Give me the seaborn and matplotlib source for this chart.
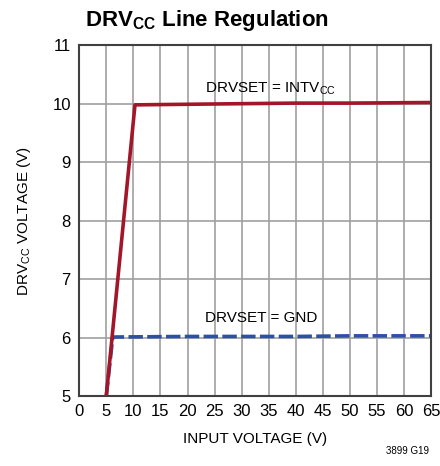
import matplotlib
matplotlib.use("Agg")
import matplotlib.pyplot as plt
import seaborn as sns
import pandas as pd

# DRVcc line regulation
vin_intv = [5.0, 10.3, 20, 30, 40, 50, 65]
vdrv_intv = [5.0, 9.98, 9.99, 10.0, 10.01, 10.01, 10.02]

vin_gnd = [5.0, 6.2, 20, 30, 40, 50, 65]
vdrv_gnd = [5.0, 6.01, 6.02, 6.02, 6.02, 6.03, 6.03]

x_ticks = list(range(0, 70, 5))
y_ticks = list(range(5, 12))

sns.set_theme(style="white")
plt.rcParams['font.family'] = ['Liberation Sans Narrow', 'Liberation Sans', 'DejaVu Sans']
plt.rcParams['text.color'] = 'black'
plt.rcParams['axes.labelcolor'] = 'black'
plt.rcParams['xtick.color'] = 'black'
plt.rcParams['ytick.color'] = 'black'

df_intv = pd.DataFrame({'vin': vin_intv, 'vdrv': vdrv_intv})
df_gnd = pd.DataFrame({'vin': vin_gnd, 'vdrv': vdrv_gnd})

fig = plt.figure(figsize=(4.4, 4.66), dpi=100)
ax = fig.add_axes([0.18, 0.15, 0.80, 0.753])

ax.grid(True, color='#a0a0a0', linewidth=1.2)
ax.set_axisbelow(True)

sns.lineplot(data=df_gnd, x='vin', y='vdrv', ax=ax, color='#2e4fa3',
             linewidth=2.6, linestyle=(0, (4, 1.2)), sort=False)
sns.lineplot(data=df_intv, x='vin', y='vdrv', ax=ax, color='#a3162a',
             linewidth=2.6, sort=False)

ax.set_xlim(0, 65)
ax.set_ylim(5, 11)
ax.set_xticks(x_ticks)
ax.set_yticks(y_ticks)
ax.tick_params(labelsize=12, length=0, pad=6)
for s in ax.spines.values():
    s.set_color('#404040')
    s.set_linewidth(1.5)

ax.set_xlabel('INPUT VOLTAGE (V)', fontsize=11, labelpad=9)
ax.set_ylabel('DRV$_{\\mathregular{CC}}$ VOLTAGE (V)', fontsize=11, labelpad=14)

ax.text(23.3, 10.2, 'DRVSET = INTV$_{\\mathregular{CC}}$', fontsize=11)
ax.text(23.3, 6.26, 'DRVSET = GND', fontsize=11)

fig.text(0.193, 0.945, 'DRV$_{\\mathregular{CC}}$ Line Regulation', fontsize=16,
         fontweight='bold')
fig.text(0.975, 0.025, '3899 G19', fontsize=7, ha='right')

fig.savefig('out.png', dpi=100)
